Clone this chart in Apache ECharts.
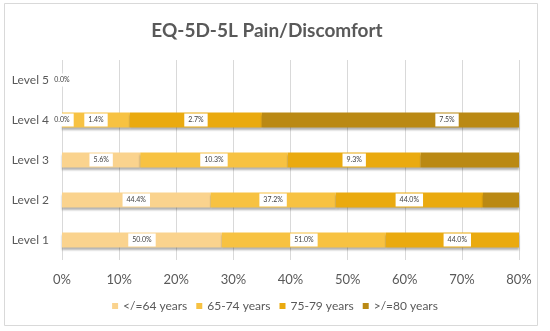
<!DOCTYPE html>
<html><head><meta charset="utf-8">
<script src="https://cdn.jsdelivr.net/npm/echarts@6/dist/echarts.min.js"></script>
<style>html,body{margin:0;padding:0;background:#fff}#c{width:550px;height:331px}</style>
</head><body><div id="c"></div>
<script>
const categories = ['Level 1','Level 2','Level 3','Level 4','Level 5'];
const seriesNames = ['</=64 years','65-74 years','75-79 years','>/=80 years'];
// bar lengths (%)
const age64 = [28.0, 26.0, 13.7, 0.0, 0.0];
const age6574 = [28.7, 21.9, 25.8, 11.9, 0];
const age7579 = [25.0, 25.8, 23.3, 23.1, 0];
const age80 = [2.0, 6.5, 17.5, 64.8, 0];
// printed labels
const lbl64 = ['50.0%','44.4%','5.6%','0.0%','0.0%'];
const lbl6574 = ['51.0%','37.2%','10.3%','1.4%',''];
const lbl7579 = ['44.0%','44.0%','9.3%','2.7%',''];
const lbl80 = ['','','','7.5%',''];
const xTicks = [0,10,20,30,40,50,60,70,80];

const colors = ['#FAD38E','#F7C242','#EAAA0F','#BA8914'];
const vals = [age64, age6574, age7579, age80];
const lbls = [lbl64, lbl6574, lbl7579, lbl80];

const labelData = [], labelText = [];
categories.forEach((c, i) => {
  let cum = 0;
  vals.forEach((arr, s) => {
    const t = lbls[s][i];
    if (t) { labelData.push([cum + arr[i] / 2, i]); labelText.push(t); }
    cum += arr[i];
  });
});

const chart = echarts.init(document.getElementById('c'), null, {renderer: 'canvas'});
const txt = '#595959';
chart.setOption({
  animation: false,
  backgroundColor: '#fff',
  textStyle: {fontFamily: 'Lato, "Open Sans", sans-serif'},
  graphic: [{type: 'rect', shape: {x: 4.5, y: 3.5, width: 533, height: 322}, style: {fill: 'none', stroke: '#d9d9d9', lineWidth: 1}, silent: true, z: -10}],
  title: {text: 'EQ-5D-5L Pain/Discomfort', left: 262, textAlign: 'center', top: 16,
    textStyle: {fontSize: 19, fontWeight: 'bold', color: txt, fontFamily: 'Lato, "Open Sans", sans-serif'}},
  legend: {data: seriesNames, bottom: 14, left: 'center', itemWidth: 6, itemHeight: 6, itemGap: 9, icon: 'rect',
    textStyle: {fontSize: 12, color: txt}},
  grid: {left: 62, right: 31, top: 60, bottom: 71, containLabel: false},
  xAxis: {type: 'value', min: 0, max: 80, interval: 10,
    axisLine: {show: false}, axisTick: {show: false},
    splitLine: {lineStyle: {color: '#d9d9d9'}},
    axisLabel: {formatter: v => xTicks.includes(v) ? v + '%' : '', fontSize: 13, color: txt, margin: 13}},
  yAxis: {type: 'category', data: categories, axisLine: {show: false}, axisTick: {show: false},
    axisLabel: {fontSize: 12, color: txt, margin: 13}},
  series: vals.map((arr, s) => ({
    name: seriesNames[s], type: 'bar', stack: 'all', data: arr, barWidth: 15,
    itemStyle: {color: colors[s], shadowColor: 'rgba(0,0,0,0.3)', shadowBlur: 2, shadowOffsetY: 2}
  })).concat([{
    type: 'custom', data: labelData, z: 10, clip: false,
    renderItem: (params, api) => {
      const p = api.coord([api.value(0), api.value(1)]);
      return {type: 'text', x: p[0], y: p[1], style: {text: labelText[params.dataIndex], align: 'center', verticalAlign: 'middle',
        fill: '#404040', fontSize: 7, fontFamily: 'Lato, sans-serif', backgroundColor: '#fff', padding: [3,4,3,4]}};
    }
  }])
});
</script></body></html>
